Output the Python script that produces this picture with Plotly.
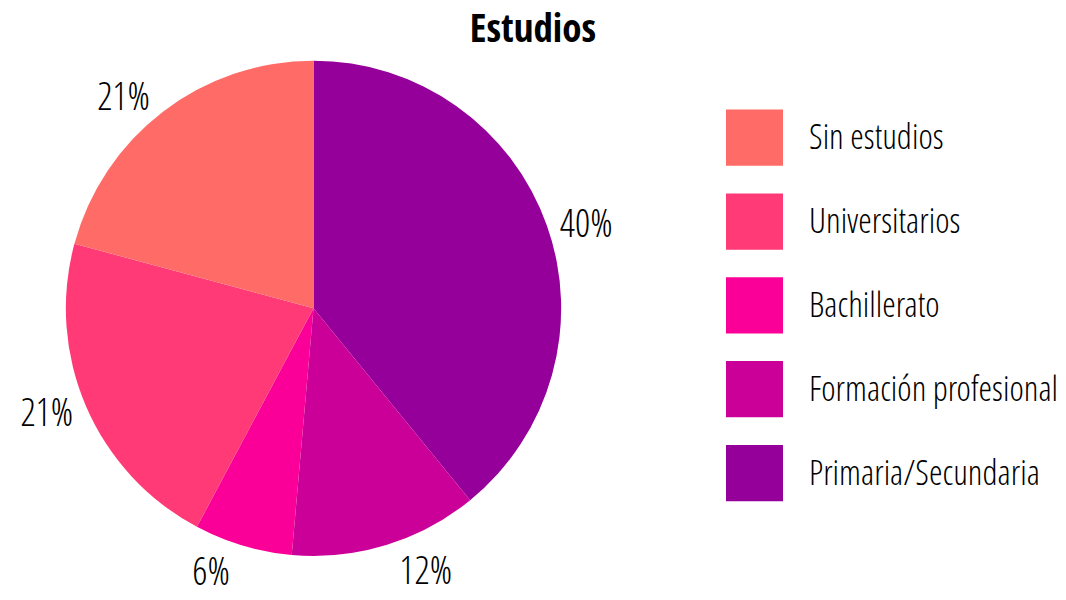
import plotly.graph_objects as go

# ---- data ----
categories = ["Sin estudios", "Universitarios", "Bachillerato", "Formación profesional", "Primaria/Secundaria"]
shares = [20.8, 21.4, 6.4, 12.3, 39.1]          # slice sizes
pct_labels = ["21%", "21%", "6%", "12%", "40%"]  # labels as printed
colors = ["#FF6B66", "#FF3A77", "#FA0098", "#CB0099", "#940099"]
title_text = "Estudios"

W, H = 1066, 600
LIGHT = "Open Sans Condensed Light"
BOLD = "Open Sans Condensed"

# pie geometry (pixels)
cx, cy, r = 313.5, 312.5, 251

# drawn clockwise from 12 o'clock in reverse order, so that the first
# category runs counter-clockwise from the top as in the picture
fig = go.Figure(go.Pie(
    labels=categories[::-1],
    values=shares[::-1],
    text=pct_labels[::-1],
    sort=False,
    direction="clockwise",
    rotation=0,
    marker=dict(colors=colors[::-1], line=dict(width=0)),
    textinfo="text",
    textposition="outside",
    outsidetextfont=dict(family=LIGHT, size=38, color="#000000"),
    hoverinfo="label+percent",
    showlegend=False,
    domain=dict(x=[(cx - r) / W, (cx + r) / W], y=[(H - cy - r) / H, (H - cy + r) / H]),
))

# custom legend: large squares with labels
sq_left, sq_size, first_top, step, txt_left = 726, 57, 111, 85, 807
for i, (cat, col) in enumerate(zip(categories, colors)):
    top = first_top + i * step
    fig.add_shape(type="rect", xref="paper", yref="paper",
                  x0=sq_left / W, x1=(sq_left + sq_size) / W,
                  y0=1 - (top + sq_size) / H, y1=1 - top / H,
                  fillcolor=col, line=dict(width=0))
    fig.add_annotation(x=txt_left / W, y=1 - (top + sq_size / 2 - 2) / H, xref="paper", yref="paper",
                       text=cat, showarrow=False, xanchor="left", yanchor="middle",
                       font=dict(family=LIGHT, size=34.5, color="#000000"))

fig.update_layout(
    width=W, height=H,
    margin=dict(l=0, r=0, t=0, b=0),
    paper_bgcolor="white", plot_bgcolor="white",
    title=dict(text=title_text, x=0.5, xanchor="center", y=1 - 28 / H, yanchor="middle",
               font=dict(family=BOLD, size=39, color="#000000", weight="bold")),
)
fig.write_html("out.html", config={"displayModeBar": False},
               post_script="document.body.style.margin='0';")
